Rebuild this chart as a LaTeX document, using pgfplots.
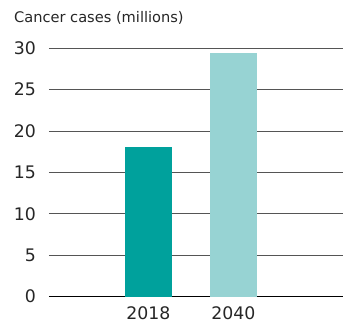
\documentclass[border=0pt]{standalone}
\usepackage{pgfplots}
\pgfplotsset{compat=1.18}
\usepackage{fontspec}
\setmainfont{DejaVu Sans}
\definecolor{teal1}{HTML}{00A19C}
\definecolor{teal2}{HTML}{97D3D3}
\definecolor{gridc}{HTML}{555555}
\begin{document}
\begin{tikzpicture}
\begin{axis}[
  at={(0pt,0pt)}, anchor=south west,
  scale only axis,
  width=294pt, height=248.4pt,
  xmin=-1.17, xmax=2.29,
  ymin=0, ymax=30,
  ytick={5,10,15,20,25,30},
  extra y ticks={0},
  extra y tick style={grid style={black, line width=1.4pt}},
  xtick={0,1}, xticklabels={2018,2040},
  axis line style={draw=none},
  major tick length=0pt,
  ymajorgrids,
  grid style={gridc, line width=1pt},
  /pgf/number format/assume math mode=true,
  tick label style={font=\fontsize{17.3}{20}\selectfont, text=black!85},
  yticklabel style={anchor=east, inner sep=0pt, xshift=-13pt},
  xticklabel style={anchor=north, inner sep=0pt, yshift=-9.5pt},
  clip=false,
]
\addplot[ybar, bar width=47pt, bar shift=0pt, fill=teal1, draw=none] coordinates {(0,18.1)};
\addplot[ybar, bar width=47pt, bar shift=0pt, fill=teal2, draw=none] coordinates {(1,29.4)};
\end{axis}
\node[anchor=west, inner sep=0pt, font=\fontsize{14.6}{17}\selectfont, text=black!85] at (-35pt,278.7pt) {Cancer cases (millions)};
\pgfresetboundingbox
\path (-49pt,-26.5pt) rectangle (294pt,296.7pt);
\end{tikzpicture}
\end{document}
